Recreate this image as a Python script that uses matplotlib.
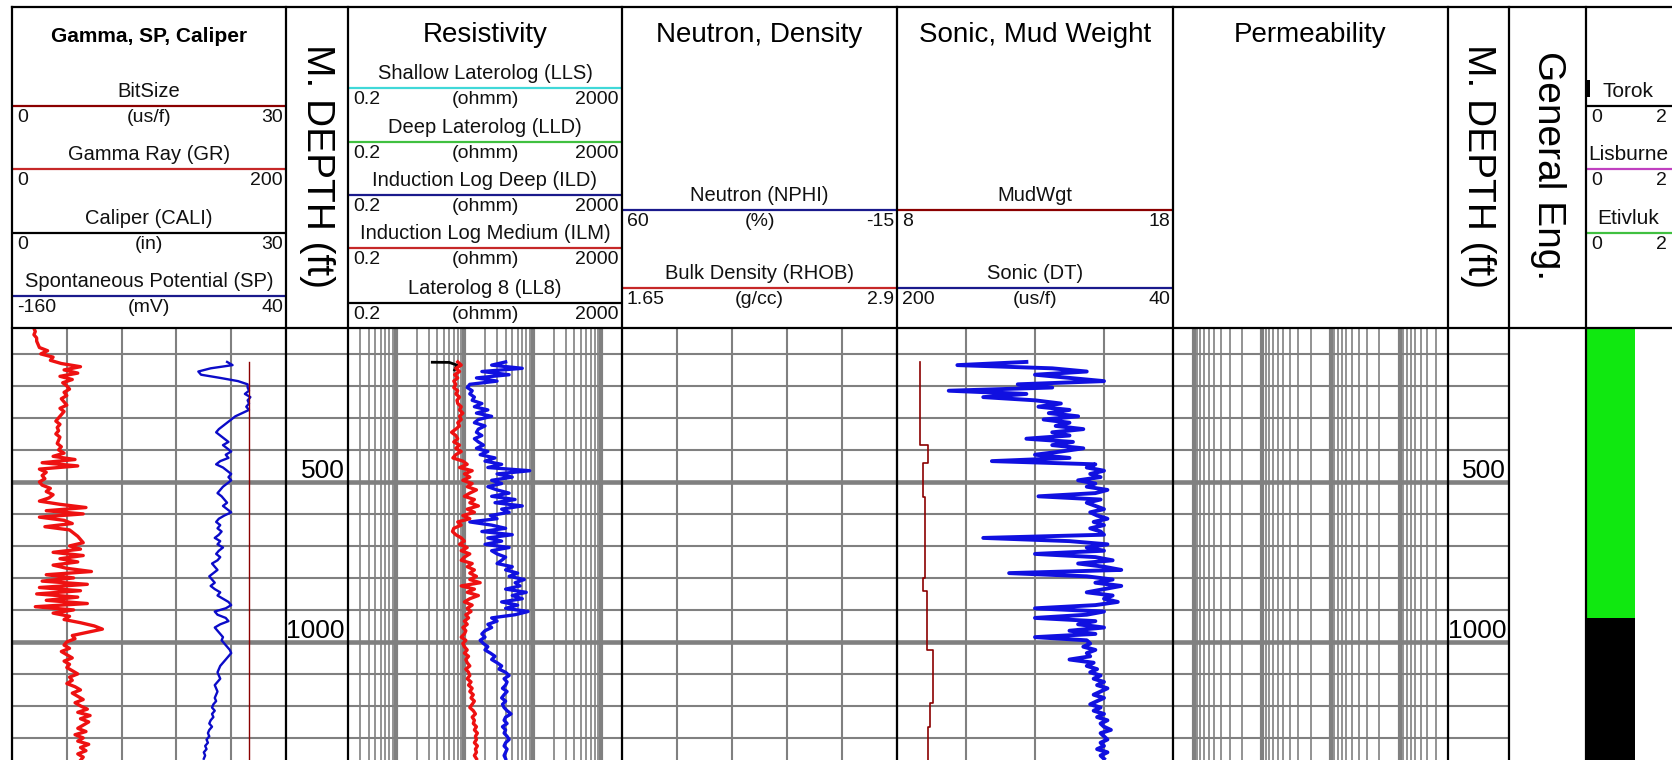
# -*- coding: utf-8 -*-
"""Well log print: Gamma/SP/Caliper, Resistivity, Neutron/Density, Sonic,
Permeability tracks with depth columns and a formation track.

Layout is done in pixel units of the 1672x760 output so the header blocks
(curve name, coloured scale line, min/unit/max) line up with each track.
"""
import matplotlib

matplotlib.use("Agg")
import matplotlib.pyplot as plt
import numpy as np
from matplotlib.patches import Rectangle
from matplotlib.ticker import FixedLocator, LogLocator, MultipleLocator

plt.rcParams["font.family"] = ["Liberation Sans", "DejaVu Sans"]

# ---------------------------------------------------------------- data
# Gamma ray (API), every 10 ft from 20 ft
gr_depth = np.arange(20, 1371, 10)
gr = [
    16, 17, 16, 18, 18, 19, 20, 26, 21, 30,
    28, 36, 50, 38, 48, 35, 44, 37, 40, 42,
    38, 40, 36, 38, 40, 35, 38, 36, 34, 32,
    35, 33, 34, 32, 35, 34, 33, 36, 34, 38,
    30, 46, 22, 48, 20, 25, 22, 24, 20, 22,
    28, 25, 30, 27, 20, 35, 54, 25, 52, 20,
    38, 44, 24, 42, 45, 48, 50, 52, 42, 50,
    30, 52, 35, 48, 30, 40, 58, 25, 45, 22,
    55, 20, 50, 18, 48, 25, 55, 17, 45, 30,
    42, 38, 50, 60, 66, 55, 44, 46, 40, 38,
    42, 36, 40, 44, 38, 42, 40, 44, 48, 42,
    44, 40, 46, 50, 44, 48, 52, 46, 50, 55,
    48, 57, 50, 56, 52, 48, 54, 46, 52, 48,
    56, 50, 54, 48, 52, 50,
]

# curves that start at 125 ft, every 10 ft
log_depth = np.arange(125, 1366, 10)
sp = [
    -3, 1, -15, -24, -22, -8, 5, 12, 12, 13,
    10, 14, 12, 13, 11, 13, 8, 3, 0, -3,
    -6, -9, -11, -8, -5, -2, -6, -3, 0, -4,
    -2, -8, -11, -6, -3, 0, -2, 0, -3, -6,
    -8, -10, -7, -5, -3, -6, -3, 0, -5, -9,
    -11, -8, -10, -7, -9, -12, -8, -10, -6, -9,
    -11, -8, -10, -14, -12, -10, -13, -16, -14, -12,
    -15, -12, -8, -10, -6, -2, 0, -4, -12, -10,
    -4, -2, -8, -12, -10, -8, -6, -7, -5, -3,
    -1, 0, -2, -4, -6, -8, -9, -10, -9, -8,
    -10, -12, -11, -10, -11, -12, -11, -13, -14, -12,
    -14, -13, -15, -16, -14, -16, -17, -16, -18, -17,
    -19, -18, -20, -19, -20,
]
ilm = [
    8, 9, 7.5, 8.5, 7.2, 8, 7, 7.5, 7, 8,
    7.5, 8.5, 7.8, 8, 9, 8.5, 9.5, 8.5, 9, 8,
    8.5, 7.5, 6.5, 7.5, 8, 7, 8.5, 7.5, 9, 7.5,
    6.8, 9.5, 11, 8.5, 13, 10, 12, 9.5, 13, 11,
    15, 12, 10, 14, 12, 16, 11, 14, 9.5, 12,
    8, 9, 7, 6.7, 7.5, 9, 10, 8.5, 11, 9,
    12, 10, 9, 13, 11, 14, 12, 15, 12, 17,
    9, 14, 11, 16, 12, 10, 13, 11, 12.5, 10.5,
    11.5, 10, 11, 9.5, 10.5, 10, 9, 10.5, 9.5, 10,
    11, 10, 11.5, 10.5, 11, 12, 10.5, 11.5, 12, 11,
    12.5, 11.5, 13, 12, 13.5, 12.5, 14, 13, 12, 13.5,
    14.5, 13, 14, 13.5, 15, 14, 15.5, 14.5, 15, 14,
    15.5, 14.5, 15, 14, 15,
]
ild = [
    40, 25, 70, 18, 45, 15, 30, 12, 11, 13,
    12, 14, 13, 18, 14, 22, 15, 25, 16, 14,
    20, 16, 15, 18, 14, 16, 19, 15, 22, 17,
    28, 20, 35, 22, 90, 30, 50, 25, 35, 22,
    30, 45, 25, 55, 28, 70, 35, 45, 24, 30,
    12, 25, 40, 18, 50, 22, 35, 20, 45, 25,
    30, 40, 35, 30, 50, 40, 60, 45, 75, 55,
    65, 40, 80, 50, 70, 35, 60, 40, 85, 55,
    25, 30, 22, 25, 20, 18, 20, 17, 19, 22,
    20, 24, 28, 25, 30, 35, 32, 40, 45, 38,
    42, 40, 36, 42, 38, 35, 40, 36, 38, 42,
    48, 40, 38, 42, 36, 40, 38, 42, 45, 40,
    38, 42, 40, 38, 40,
]
dt = [
    125, 165, 110, 90, 120, 100, 80, 130, 110, 170,
    125, 150, 120, 105, 118, 100, 112, 95, 115, 100,
    108, 92, 110, 100, 125, 98, 110, 92, 105, 120,
    100, 145, 85, 90, 80, 88, 82, 95, 85, 90,
    78, 85, 118, 82, 90, 85, 80, 88, 84, 78,
    86, 80, 88, 82, 80, 150, 100, 78, 90, 80,
    120, 85, 75, 95, 80, 70, 135, 90, 75, 85,
    70, 80, 90, 75, 80, 72, 85, 120, 80, 90,
    120, 85, 95, 80, 100, 85, 120, 90, 88, 92,
    85, 90, 88, 100, 86, 90, 84, 88, 82, 86,
    80, 84, 78, 82, 86, 80, 84, 88, 82, 86,
    80, 84, 78, 82, 80, 76, 82, 80, 78, 82,
    80, 84, 78, 82, 80,
]

# short Laterolog 8 piece visible at the top of the resistivity curves
ll8_depth = [126, 126.5, 135, 150]
ll8 = [3.4, 6.0, 7.8, 7.2]

# bit size (constant) and mud weight (stepped)
bitsize_depth = [124, 1369]
bitsize = [26, 26]
mud_top = [124, 384, 442, 546, 800, 840, 1025, 1192, 1265]
mud_base = [384, 442, 546, 800, 840, 1025, 1192, 1265, 1369]
mud_wgt = [8.83, 9.14, 8.95, 9.0, 8.93, 9.1, 9.32, 9.2, 9.12]

# formation column
form_fill_names = ["Etivluk", "Torok"]
form_fill_top = [19, 925]
form_fill_base = [925, 1369]
form_fill_value = [1, 1]

depth_labels = [500, 1000]

# ---------------------------------------------------------------- layout
W, H = 1672, 760
FRAME_TOP, HEADER_BOTTOM = 7, 328
DEPTH_TOP, DEPTH_BOTTOM = 19, 1369
track_edges = [12, 286, 348, 622, 897, 1173, 1448, 1509, 1586, 1684]

GRID = "#808080"
MAROON = "#8b0000"
RED = "#ee1111"
BLUE = "#1010e0"
NAVY = "#1a1a8c"
CYAN = "#40d8d8"
GREEN = "#40c040"
MAGENTA = "#c040c0"
LIME = "#10e810"

titles = {
    0: "Gamma, SP, Caliper",
    2: "Resistivity",
    3: "Neutron, Density",
    4: "Sonic, Mud Weight",
    5: "Permeability",
}

# header rows: (name, unit, left value, right value, colour)
header_rows = {
    0: [
        ("BitSize", "(us/f)", "0", "30", MAROON),
        ("Gamma Ray (GR)", "", "0", "200", "#c62828"),
        ("Caliper (CALI)", "(in)", "0", "30", "black"),
        ("Spontaneous Potential (SP)", "(mV)", "-160", "40", NAVY),
    ],
    2: [
        ("Shallow Laterolog (LLS)", "(ohmm)", "0.2", "2000", CYAN),
        ("Deep Laterolog (LLD)", "(ohmm)", "0.2", "2000", GREEN),
        ("Induction Log Deep (ILD)", "(ohmm)", "0.2", "2000", NAVY),
        ("Induction Log Medium (ILM)", "(ohmm)", "0.2", "2000", "#c62828"),
        ("Laterolog 8 (LL8)", "(ohmm)", "0.2", "2000", "black"),
    ],
    3: [
        ("Neutron (NPHI)", "(%)", "60", "-15", NAVY),
        ("Bulk Density (RHOB)", "(g/cc)", "1.65", "2.9", "#c62828"),
    ],
    4: [
        ("MudWgt", "", "8", "18", MAROON),
        ("Sonic (DT)", "(us/f)", "200", "40", NAVY),
    ],
    8: [
        ("Torok", "", "0", "2", "black"),
        ("Lisburne", "", "0", "2", MAGENTA),
        ("Etivluk", "", "0", "2", GREEN),
    ],
}
header_line_y = {
    0: [106, 169, 233, 296],
    2: [88, 142, 195, 248, 303],
    3: [210, 288],
    4: [210, 288],
    8: [106, 169, 233],
}
form_colors = {"Torok": "black", "Lisburne": MAGENTA, "Etivluk": LIME}


fig = plt.figure(figsize=(W / 100, H / 100), dpi=100)


def track_axes(i):
    x0, x1 = track_edges[i], track_edges[i + 1]
    ax = fig.add_axes([x0 / W, 0, (x1 - x0) / W, (H - HEADER_BOTTOM) / H])
    ax.set_ylim(DEPTH_BOTTOM, DEPTH_TOP)
    ax.tick_params(which="both", length=0, labelbottom=False, labelleft=False)
    for s in ax.spines.values():
        s.set_visible(False)
    ax.set_axisbelow(True)
    return ax


def depth_grid(ax):
    ax.yaxis.set_major_locator(MultipleLocator(500))
    ax.yaxis.set_minor_locator(MultipleLocator(100))
    ax.yaxis.grid(True, which="major", color=GRID, lw=3.3)
    ax.yaxis.grid(True, which="minor", color=GRID, lw=1.5)


def linear_grid(ax, lo, hi, ndiv):
    ax.set_xlim(lo, hi)
    ax.xaxis.set_major_locator(FixedLocator(np.linspace(lo, hi, ndiv + 1)))
    ax.xaxis.grid(True, which="major", color=GRID, lw=1.5)
    depth_grid(ax)


def log_grid(ax, lo, hi):
    ax.set_xscale("log")
    ax.set_xlim(lo, hi)
    ax.xaxis.set_major_locator(LogLocator(base=10, numticks=10))
    ax.xaxis.set_minor_locator(LogLocator(base=10, subs=range(2, 10), numticks=10))
    ax.xaxis.grid(True, which="major", color=GRID, lw=3.0)
    ax.xaxis.grid(True, which="minor", color=GRID, lw=1.2)
    depth_grid(ax)


def twin(ax, lo, hi):
    tw = ax.twiny()
    tw.set_xlim(lo, hi)
    tw.set_axis_off()
    return tw


def stepped(tops, bases, values):
    ys = np.column_stack([tops, bases]).ravel()
    xs = np.repeat(values, 2)
    return xs, ys


# ---- track 0: gamma, SP, caliper
ax0 = track_axes(0)
linear_grid(ax0, 0, 200, 5)
ax0.plot(gr, gr_depth, color=RED, lw=2.4)
sp_ax = twin(ax0, -160, 40)
sp_ax.plot(sp, log_depth, color="#0b0bc8", lw=1.7)
bit_ax = twin(ax0, 0, 30)
bit_ax.plot(bitsize, bitsize_depth, color=MAROON, lw=1.0)

# ---- depth columns
for i in (1, 6):
    ax = track_axes(i)
    ax.set_xlim(0, 1)
    depth_grid(ax)
    for d in depth_labels:
        ax.annotate(str(d), xy=(1, d), xycoords=("axes fraction", "data"),
                    xytext=(-3, 4), textcoords="offset pixels",
                    ha="right", va="baseline", fontsize=19)

# ---- track 2: resistivity
ax2 = track_axes(2)
log_grid(ax2, 0.2, 2000)
ax2.plot(ll8, ll8_depth, color="black", lw=2.0)
ax2.plot(ild, log_depth, color=BLUE, lw=2.4)
ax2.plot(ilm, log_depth, color=RED, lw=2.4)

# ---- track 3: neutron, density (no data)
ax3 = track_axes(3)
linear_grid(ax3, 60, -15, 5)

# ---- track 4: sonic, mud weight
ax4 = track_axes(4)
linear_grid(ax4, 200, 40, 4)
ax4.plot(dt, log_depth, color=BLUE, lw=2.8)
mw_ax = twin(ax4, 8, 18)
mx, my = stepped(mud_top, mud_base, mud_wgt)
mw_ax.plot(mx, my, color=MAROON, lw=1.2)

# ---- track 5: permeability (reversed log, no data)
ax5 = track_axes(5)
log_grid(ax5, 2000, 0.2)

# ---- track 7: general engineering (blank)
track_axes(7).set_xlim(0, 1)

# ---- track 8: formations
ax8 = track_axes(8)
ax8.set_xlim(0, 2)
for name, top, base, val in zip(form_fill_names, form_fill_top,
                                form_fill_base, form_fill_value):
    ax8.fill_betweenx([top, base], 0, val, color=form_colors[name], lw=0)

# ---------------------------------------------------------------- header
hdr = fig.add_axes([0, 0, 1, 1], zorder=10)
hdr.set_xlim(0, W)
hdr.set_ylim(H, 0)
hdr.set_axis_off()

for i, title in titles.items():
    cx = (track_edges[i] + track_edges[i + 1]) / 2
    if i == 0:
        hdr.text(cx, 42, title, ha="center", va="baseline", fontsize=15,
                 fontweight="bold")
    else:
        hdr.text(cx, 42, title, ha="center", va="baseline", fontsize=20)

for i, rows in header_rows.items():
    # the last track runs past the page edge: keep its texts on the page
    x0, x1 = track_edges[i], track_edges[i + 1]
    vis_right = min(x1, W - 2)
    cx = (x0 + vis_right) / 2
    name_size = 15 if i == 8 else 14.5
    for (name, unit, lo, hi, color), y in zip(rows, header_line_y[i]):
        hdr.text(cx, y - 9, name, ha="center", va="baseline",
                 fontsize=name_size, color="#111111")
        hdr.plot([x0, x1], [y, y], color=color, lw=1.6, solid_capstyle="butt")
        hdr.text(x0 + 5, y + 16, lo, ha="left", va="baseline", fontsize=14,
                 color="#111111")
        hdr.text(cx, y + 16, unit, ha="center", va="baseline", fontsize=14,
                 color="#111111")
        hdr.text(vis_right - 3, y + 16, hi, ha="right", va="baseline",
                 fontsize=14, color="#111111")

# small fill swatch next to Torok
hdr.add_patch(Rectangle((1587, 80), 3, 17, color="black", lw=0))

# rotated column titles
for i, label in ((1, "M. DEPTH (ft)"), (6, "M. DEPTH (ft)"), (7, "General Eng.")):
    cx = (track_edges[i] + track_edges[i + 1]) / 2
    hdr.text(cx, 166, label, rotation=-90, ha="center", va="center",
             fontsize=28)

# frame: outer top, header/data split, track separators
hdr.plot([track_edges[0], track_edges[-1]], [FRAME_TOP, FRAME_TOP],
         color="black", lw=1.6)
hdr.plot([track_edges[0], track_edges[-1]], [HEADER_BOTTOM, HEADER_BOTTOM],
         color="black", lw=1.6)
for x in track_edges:
    hdr.plot([x, x], [FRAME_TOP, H], color="black", lw=1.6)

fig.savefig("out.png", dpi=100)
